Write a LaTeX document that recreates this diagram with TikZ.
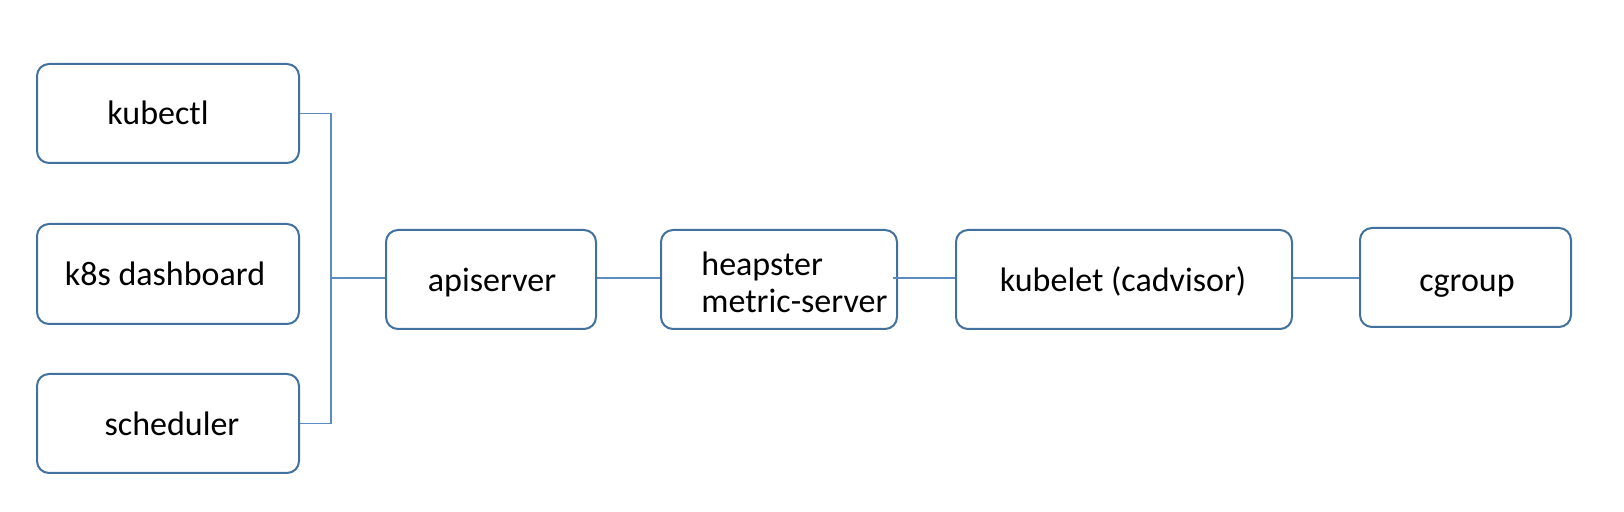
\documentclass[tikz,border=0pt]{standalone}
\usepackage{fontspec}
\setmainfont{Carlito}
\definecolor{boxblue}{HTML}{41719C}
\definecolor{lineblue}{HTML}{5B8BC0}
\begin{document}
\begin{tikzpicture}[x=0.5pt,y=-0.5pt,
  box/.style={draw=boxblue,line width=1pt,rounded corners=6pt,fill=white,inner sep=0pt},
  lbl/.style={font=\fontsize{17}{18.5}\selectfont,inner sep=0pt,align=left,text=black,anchor=base},
  conn/.style={draw=lineblue,line width=0.8pt}]
\useasboundingbox (0,0) rectangle (1624,512);
% boxes (centre, size)
\node[box,minimum width=131pt,minimum height=49.5pt] (kubectl) at (168,113.5) {};
\node[box,minimum width=131pt,minimum height=50pt] (dash) at (168,274) {};
\node[box,minimum width=131pt,minimum height=49.5pt] (sched) at (168,423.5) {};
\node[box,minimum width=105pt,minimum height=49.5pt] (api) at (491,279.5) {};
\node[box,minimum width=118pt,minimum height=49.5pt] (heap) at (779,279.5) {};
\node[box,minimum width=168pt,minimum height=49.5pt] (kubelet) at (1124,279.5) {};
\node[box,minimum width=105.5pt,minimum height=49.5pt] (cgroup) at (1465.5,277.5) {};
% labels
\node[lbl] (tkubectl) at (158,125) {kubectl};
\node[lbl] (tdash) at (165,286) {k8s dashboard};
\node[lbl] (tsched) at (172,436) {scheduler};
\node[lbl] (tapi) at (492,292) {apiserver};
\node[lbl,anchor=west] (theap) at (701,282) {heapster\\metric-server};
\node[lbl] (tkubelet) at (1123,292) {kubelet (cadvisor)};
\node[lbl] (tcgroup) at (1467,292) {cgroup};
% connectors
\coordinate (jt) at (331,278);
\draw[conn] (kubectl.east) -| (jt);
\draw[conn] (sched.east) -| (jt);
\draw[conn] (jt) -- (api.west |- jt);
\draw[conn] (api.east |- jt) -- (heap.west |- jt);
\draw[conn] ([xshift=-2.5pt]heap.east |- jt) -- (kubelet.west |- jt);
\draw[conn] (kubelet.east |- jt) -- (cgroup.west |- jt);
\end{tikzpicture}
\end{document}
